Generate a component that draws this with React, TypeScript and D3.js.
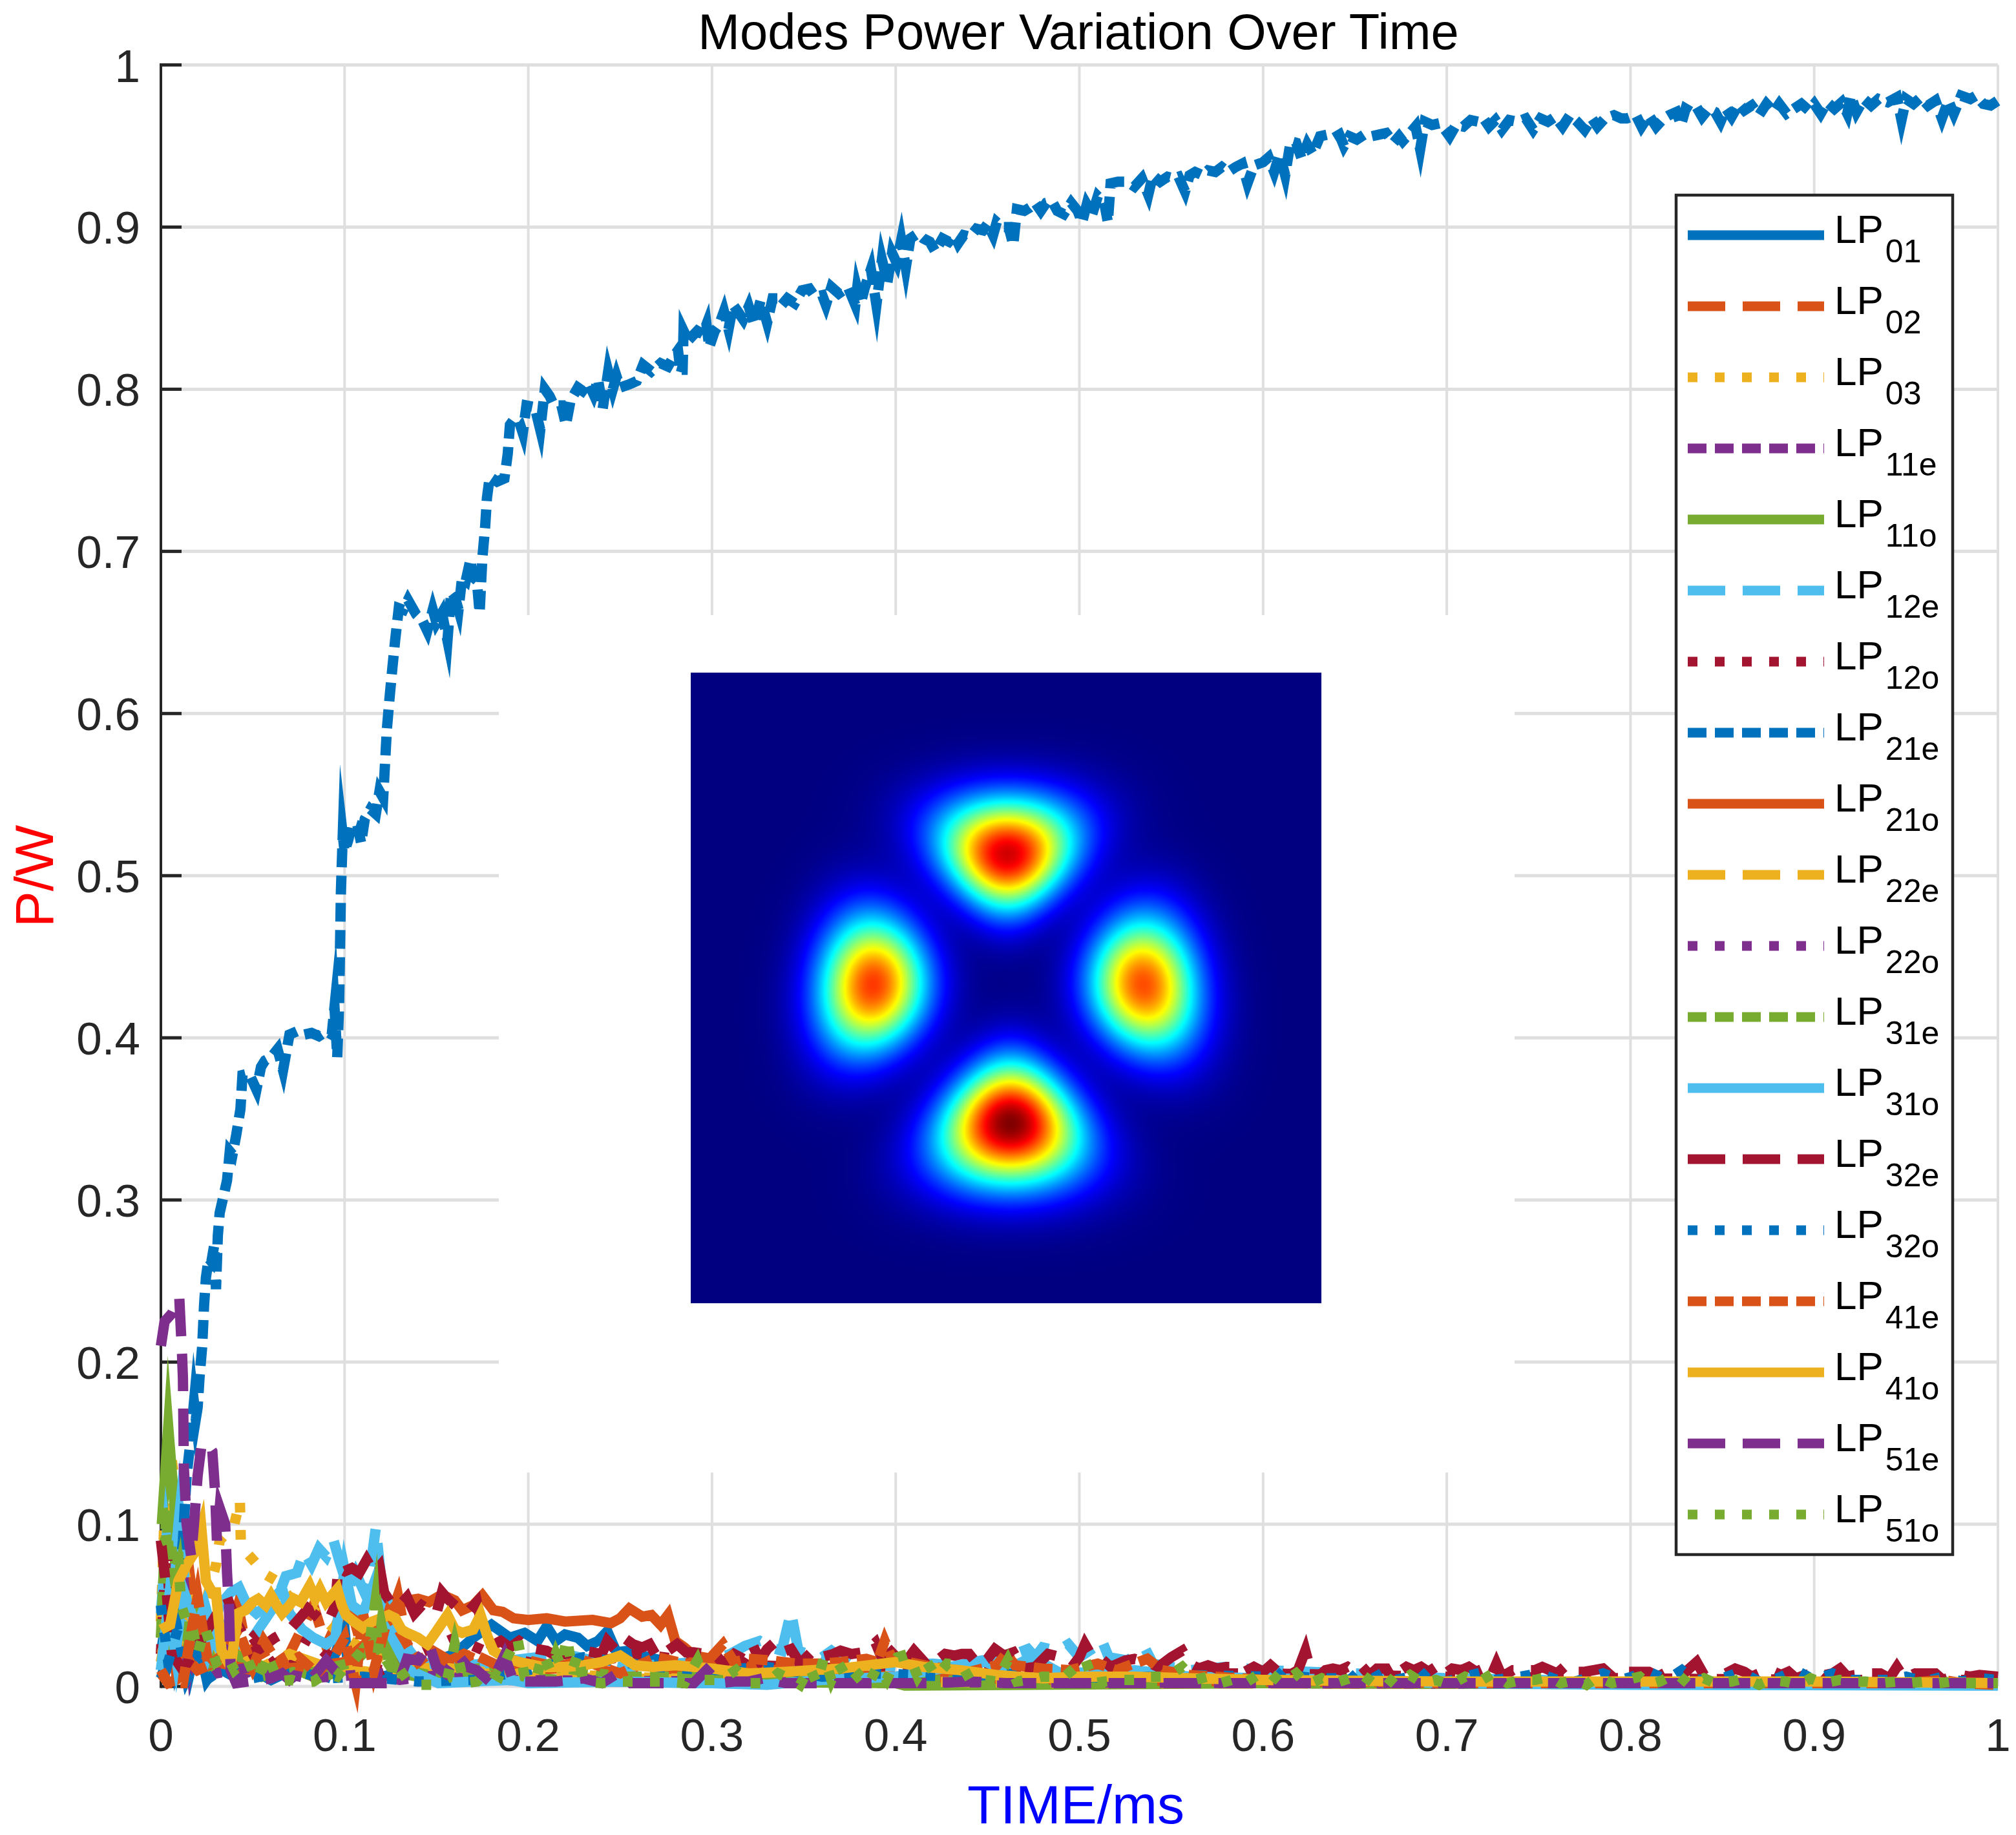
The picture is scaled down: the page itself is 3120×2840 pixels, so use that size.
import React, { useMemo } from "react";
import * as d3 from "d3";

const CHART_TITLE = "Modes Power Variation Over Time";
const X_LABEL = "TIME/ms";
const Y_LABEL = "P/W";
const tickValues = [0, 0.1, 0.2, 0.3, 0.4, 0.5, 0.6, 0.7, 0.8, 0.9, 1];
const tickLabels = ["0", "0.1", "0.2", "0.3", "0.4", "0.5", "0.6", "0.7", "0.8", "0.9", "1"];

const modeNames = ["01","02","03","11e","11o","12e","12o","21e","21o","22e","22o","31e","31o","32e","32o","41e","41o","51e","51o"];
const palette = ["#0072BD","#D95319","#EDB120","#7E2F8E","#77AC30","#4DBEEE","#A2142F"];
const dashStyles = ["none","58 27","15 27","29 13"];

type P = [number, number];

const lp01: P[] = [[0,.02],[.004,.05],[.008,.015],[.012,.035],[.016,.01],[.02,.03],[.025,.004],[.03,.012],[.04,.006],[.05,.01],[.06,.004],[.075,.012],[.09,.006],[.1,.035],[.102,.01],[.115,.004],[.13,.009],[.145,.014],[.16,.02],[.17,.03],[.18,.038],[.19,.03],[.198,.033],[.205,.028],[.21,.037],[.215,.028],[.22,.032],[.227,.03],[.232,.025],[.238,.028],[.243,.034],[.248,.021],[.255,.022],[.265,.018],[.28,.014],[.3,.008],[.33,.005],[.36,.008],[.4,.004],[.45,.005],[.5,.003],[.6,.002],[.8,.002],[1,.001]];
const lp02: P[] = [[0,.008],[.004,.002],[.008,.004],[.012,.03],[.016,.066],[.02,.03],[.026,.01],[.035,.022],[.042,.05],[.047,.02],[.053,.026],[.06,.012],[.07,.02],[.083,.05],[.09,.025],[.102,.054],[.108,.03],[.118,.02],[.129,.056],[.135,.02],[.15,.012],[.165,.02],[.18,.012],[.2,.01],[.23,.012],[.26,.006],[.3,.008],[.35,.004],[.4,.005],[.5,.002],[.7,.002],[1,.001]];
const lp03: P[] = [[0,.04],[.003,.14],[.005,.148],[.007,.13],[.01,.105],[.013,.07],[.018,.04],[.024,.05],[.03,.075],[.032,.09],[.036,.095],[.04,.1],[.043,.115],[.0435,.09],[.047,.082],[.051,.077],[.057,.069],[.063,.065],[.07,.055],[.08,.05],[.09,.04],[.1,.03],[.115,.02],[.13,.015],[.16,.01],[.2,.008],[.25,.006],[.3,.004],[.4,.003],[.6,.002],[1,.001]];
const lp11e: P[] = [[0,.03],[.004,.06],[.008,.03],[.012,.07],[.016,.02],[.02,.05],[.028,.015],[.035,.03],[.045,.008],[.06,.012],[.08,.006],[.1,.01],[.13,.004],[.16,.008],[.2,.004],[.25,.003],[.3,.004],[.4,.002],[.6,.002],[1,.001]];
const lp11o: P[] = [[.0005,.1],[.004,.16],[.0075,.11],[.008,.02],[.01,.06],[.014,.02],[.02,.045],[.028,.012],[.04,.018],[.055,.006],[.07,.012],[.085,.005],[.1,.01],[.12,.03],[.13,.008],[.15,.004],[.18,.006],[.22,.004],[.3,.003],[.4,.002],[.405,.0005],[.6,.002],[1,.001]];
const lp12e: P[] = [[0,.045],[.003,.09],[.006,.06],[.01,.105],[.014,.05],[.018,.03],[.024,.05],[.03,.025],[.036,.045],[.042,.02],[.05,.03],[.056,.04],[.062,.05],[.068,.068],[.074,.07],[.078,.083],[.082,.075],[.086,.085],[.09,.08],[.094,.09],[.097,.078],[.102,.06],[.106,.07],[.11,.06],[.114,.072],[.117,.098],[.12,.065],[.124,.05],[.13,.03],[.14,.015],[.16,.012],[.19,.016],[.22,.02],[.25,.012],[.28,.014],[.3,.016],[.31,.02],[.318,.025],[.326,.028],[.332,.024],[.338,.022],[.343,.046],[.347,.022],[.352,.02],[.36,.018],[.365,.022],[.372,.016],[.376,.023],[.382,.015],[.4,.012],[.42,.014],[.44,.012],[.455,.018],[.465,.02],[.472,.023],[.476,.018],[.48,.024],[.488,.022],[.494,.026],[.5,.018],[.508,.024],[.512,.029],[.516,.018],[.526,.016],[.536,.023],[.54,.014],[.56,.01],[.58,.012],[.6,.01],[.65,.008],[.7,.005],[.75,.004],[.8,.002],[.9,.002],[1,.001]];
const lp12o: P[] = [[0,.02],[.003,.085],[.006,.03],[.012,.01],[.018,.03],[.025,.012],[.035,.04],[.04,.018],[.05,.03],[.06,.015],[.07,.01],[.08,.03],[.09,.02],[.1,.015],[.12,.01],[.14,.02],[.16,.03],[.18,.02],[.2,.015],[.22,.012],[.26,.02],[.3,.014],[.35,.012],[.4,.01],[.45,.009],[.5,.01],[.55,.008],[.6,.008],[.65,.007],[.7,.006],[.8,.005],[.9,.004],[1,.004]];
const lp21e: P[] = [[0,.005],[.002,.012],[.004,.03],[.006,.02],[.008,.042],[.01,.065],[.012,.09],[.014,.13],[.016,.15],[.018,.175],[.019,.165],[.02,.172],[.021,.19],[.0225,.21],[.0235,.235],[.0245,.252],[.026,.264],[.0275,.262],[.029,.272],[.03,.245],[.031,.278],[.032,.292],[.034,.302],[.036,.312],[.0375,.33],[.039,.328],[.041,.34],[.0433,.356],[.0444,.377],[.048,.378],[.052,.368],[.0545,.382],[.0567,.386],[.06,.388],[.0635,.393],[.0665,.38],[.07,.402],[.074,.404],[.078,.402],[.082,.403],[.086,.401],[.09,.404],[.093,.402],[.0945,.419],[.096,.388],[.097,.42],[.0975,.455],[.098,.49],[.0985,.508],[.099,.525],[.1,.515],[.102,.522],[.104,.532],[.107,.531],[.109,.52],[.111,.535],[.114,.541],[.117,.538],[.119,.552],[.121,.548],[.123,.59],[.1245,.61],[.126,.628],[.1275,.645],[.1295,.665],[.132,.664],[.1345,.67],[.137,.665],[.139,.661],[.1425,.657],[.145,.651],[.148,.664],[.15,.656],[.153,.662],[.156,.645],[.158,.675],[.16,.672],[.162,.664],[.164,.684],[.166,.682],[.1685,.695],[.17,.684],[.172,.682],[.1735,.662],[.175,.696],[.1765,.715],[.1775,.733],[.179,.746],[.183,.743],[.187,.745],[.1888,.76],[.19,.778],[.1925,.782],[.195,.78],[.197,.773],[.199,.79],[.2035,.789],[.2065,.775],[.209,.8],[.2115,.796],[.214,.79],[.218,.79],[.2205,.778],[.223,.793],[.227,.801],[.2295,.799],[.2327,.804],[.2355,.797],[.238,.806],[.2405,.788],[.2435,.811],[.246,.8],[.248,.808],[.25,.801],[.255,.803],[.259,.805],[.2625,.815],[.267,.811],[.272,.816],[.276,.814],[.279,.82],[.2815,.824],[.283,.81],[.2835,.812],[.284,.812],[.2845,.836],[.287,.83],[.2895,.833],[.292,.836],[.295,.834],[.297,.84],[.2985,.826],[.3015,.836],[.304,.84],[.3065,.848],[.309,.837],[.3115,.852],[.314,.848],[.317,.843],[.32,.851],[.323,.84],[.3265,.855],[.33,.841],[.333,.856],[.336,.856],[.338,.852],[.341,.856],[.345,.853],[.349,.861],[.353,.862],[.356,.857],[.36,.858],[.362,.852],[.365,.863],[.369,.859],[.374,.863],[.378,.852],[.379,.862],[.381,.853],[.383,.862],[.3865,.874],[.3895,.852],[.3925,.88],[.3955,.866],[.398,.884],[.4005,.878],[.403,.892],[.4055,.875],[.408,.893],[.412,.896],[.415,.893],[.4185,.891],[.4215,.885],[.4255,.893],[.429,.891],[.432,.895],[.434,.89],[.437,.895],[.4405,.894],[.444,.899],[.4475,.898],[.45,.902],[.453,.895],[.455,.903],[.458,.9],[.4615,.9],[.464,.889],[.466,.911],[.47,.91],[.473,.912],[.476,.915],[.479,.91],[.482,.915],[.485,.916],[.488,.91],[.4915,.908],[.4955,.915],[.499,.91],[.5015,.903],[.504,.914],[.507,.908],[.51,.919],[.5135,.915],[.5155,.903],[.517,.927],[.521,.928],[.526,.928],[.53,.925],[.534,.93],[.5375,.92],[.54,.932],[.544,.928],[.548,.931],[.5515,.93],[.554,.931],[.5575,.922],[.56,.932],[.563,.934],[.567,.932],[.57,.935],[.574,.934],[.5775,.937],[.581,.934],[.585,.937],[.5885,.939],[.5915,.927],[.595,.938],[.6,.94],[.603,.943],[.606,.934],[.609,.945],[.612,.932],[.615,.953],[.618,.952],[.621,.942],[.624,.951],[.627,.945],[.631,.956],[.635,.957],[.6385,.955],[.6415,.957],[.644,.95],[.647,.956],[.651,.954],[.655,.957],[.659,.956],[.663,.957],[.667,.958],[.671,.952],[.674,.956],[.676,.953],[.68,.958],[.683,.962],[.6855,.948],[.688,.965],[.692,.963],[.696,.964],[.699,.96],[.7015,.956],[.705,.963],[.709,.962],[.713,.966],[.717,.965],[.72,.967],[.723,.962],[.7265,.966],[.73,.96],[.734,.966],[.7385,.965],[.743,.967],[.747,.96],[.751,.967],[.755,.965],[.759,.968],[.763,.962],[.767,.969],[.771,.965],[.775,.96],[.779,.967],[.782,.962],[.786,.967],[.791,.969],[.795,.967],[.798,.967],[.803,.969],[.806,.962],[.81,.969],[.814,.962],[.818,.967],[.821,.969],[.825,.971],[.8275,.963],[.83,.973],[.833,.971],[.836,.974],[.839,.968],[.8425,.973],[.846,.971],[.849,.965],[.852,.973],[.855,.968],[.859,.976],[.862,.972],[.866,.975],[.87,.969],[.874,.976],[.878,.971],[.881,.976],[.885,.97],[.889,.973],[.893,.976],[.897,.972],[.9,.976],[.9035,.97],[.907,.977],[.911,.973],[.915,.977],[.918,.97],[.92,.981],[.923,.971],[.927,.979],[.931,.975],[.935,.979],[.94,.977],[.945,.98],[.9475,.966],[.95,.979],[.954,.976],[.958,.98],[.962,.975],[.966,.978],[.9695,.967],[.973,.978],[.976,.97],[.98,.981],[.985,.979],[.988,.981],[.992,.976],[.996,.975],[1,.978]];
const lp21o: P[] = [[0,.02],[.004,.03],[.008,.01],[.012,.02],[.02,.01],[.03,.015],[.05,.01],[.08,.012],[.1,.015],[.115,.03],[.122,.042],[.128,.05],[.134,.053],[.14,.054],[.146,.052],[.152,.056],[.156,.055],[.16,.053],[.164,.047],[.17,.05],[.175,.056],[.181,.047],[.186,.046],[.192,.042],[.2,.041],[.21,.042],[.22,.04],[.235,.041],[.245,.039],[.25,.042],[.255,.048],[.262,.043],[.267,.044],[.272,.038],[.276,.044],[.28,.028],[.285,.024],[.29,.019],[.3,.017],[.32,.012],[.35,.008],[.4,.006],[.45,.005],[.5,.004],[.6,.003],[.8,.002],[1,.001]];
const lp22e: P[] = [[0,.015],[.004,.04],[.008,.02],[.014,.05],[.02,.03],[.03,.015],[.04,.025],[.055,.012],[.07,.02],[.09,.012],[.12,.008],[.15,.012],[.2,.006],[.3,.004],[.5,.002],[1,.001]];
const lp22o: P[] = [[0,.01],[.006,.035],[.012,.012],[.02,.025],[.03,.008],[.05,.012],[.08,.005],[.12,.008],[.18,.004],[.3,.003],[.6,.002],[1,.001]];
const lp31e: P[] = [[0,.03],[.003,.11],[.006,.045],[.01,.07],[.014,.025],[.02,.04],[.028,.015],[.04,.02],[.06,.01],[.08,.008],[.105,.015],[.115,.03],[.125,.012],[.15,.006],[.19,.015],[.215,.012],[.25,.006],[.3,.006],[.4,.004],[.6,.002],[1,.001]];
const lp31o: P[] = [[0,.01],[.004,.05],[.008,.02],[.012,.06],[.018,.04],[.025,.02],[.032,.05],[.038,.058],[.0425,.061],[.047,.05],[.052,.045],[.058,.05],[.066,.06],[.07,.045],[.077,.035],[.083,.03],[.09,.026],[.095,.03],[.1,.072],[.104,.05],[.11,.045],[.1165,.065],[.121,.05],[.126,.03],[.135,.01],[.151,.002],[.17,.003],[.19,.004],[.2,.002],[.25,.003],[.29,.002],[.3,.002],[.33,.001],[.36,.004],[.4,.006],[.43,.012],[.447,.016],[.46,.01],[.474,.018],[.49,.008],[.53,.01],[.56,.006],[.6,.005],[.65,.004],[.7,.002],[.8,.001],[1,.0005]];
const lp32e: P[] = [[0,.09],[.003,.06],[.006,.02],[.012,.01],[.02,.025],[.028,.04],[.036,.055],[.041,.04],[.05,.02],[.056,.025],[.062,.03],[.07,.035],[.074,.04],[.08,.048],[.086,.042],[.091,.04],[.095,.05],[.0965,.073],[.1,.071],[.104,.073],[.108,.07],[.112,.078],[.116,.07],[.119,.074],[.1215,.058],[.126,.05],[.13,.05],[.134,.055],[.138,.045],[.142,.05],[.146,.047],[.15,.045],[.153,.058],[.156,.054],[.16,.05],[.164,.046],[.168,.047],[.172,.052],[.176,.03],[.18,.025],[.185,.028],[.19,.024],[.195,.028],[.2,.024],[.21,.022],[.215,.019],[.22,.02],[.23,.022],[.24,.02],[.243,.028],[.247,.023],[.252,.03],[.257,.026],[.262,.024],[.266,.026],[.27,.018],[.276,.022],[.281,.026],[.286,.021],[.29,.021],[.296,.02],[.301,.021],[.306,.014],[.312,.02],[.317,.017],[.322,.026],[.326,.016],[.33,.023],[.334,.027],[.338,.021],[.343,.023],[.348,.014],[.355,.022],[.36,.018],[.366,.02],[.37,.022],[.376,.02],[.382,.021],[.386,.024],[.389,.027],[.393,.016],[.402,.026],[.406,.016],[.41,.022],[.418,.012],[.427,.02],[.432,.019],[.436,.02],[.44,.02],[.445,.013],[.45,.017],[.454,.023],[.459,.019],[.464,.021],[.469,.011],[.476,.012],[.483,.02],[.49,.018],[.496,.012],[.5,.018],[.503,.026],[.507,.018],[.512,.017],[.517,.012],[.525,.016],[.53,.017],[.537,.015],[.543,.012],[.55,.018],[.556,.022],[.56,.014],[.565,.011],[.57,.013],[.575,.011],[.58,.012],[.585,.012],[.59,.009],[.595,.012],[.6,.009],[.604,.013],[.608,.009],[.612,.011],[.616,.008],[.619,.01],[.623,.022],[.626,.009],[.63,.006],[.634,.01],[.638,.011],[.642,.01],[.646,.012],[.65,.009],[.654,.012],[.658,.007],[.662,.011],[.667,.011],[.67,.005],[.674,.009],[.678,.012],[.682,.01],[.686,.012],[.69,.009],[.694,.012],[.698,.007],[.703,.011],[.708,.01],[.712,.012],[.716,.009],[.72,.011],[.724,.006],[.727,.014],[.73,.006],[.736,.01],[.742,.01],[.748,.01],[.752,.012],[.756,.01],[.76,.008],[.765,.013],[.77,.009],[.775,.009],[.78,.01],[.785,.011],[.79,.006],[.795,.009],[.803,.009],[.81,.009],[.815,.006],[.82,.009],[.825,.01],[.83,.009],[.836,.015],[.84,.007],[.846,.008],[.852,.008],[.857,.011],[.862,.009],[.866,.006],[.87,.008],[.874,.007],[.878,.009],[.882,.007],[.886,.009],[.89,.005],[.895,.007],[.9,.008],[.903,.01],[.906,.007],[.91,.008],[.914,.011],[.918,.006],[.922,.007],[.93,.008],[.936,.008],[.941,.005],[.945,.012],[.949,.005],[.955,.008],[.96,.008],[.966,.008],[.97,.004],[.975,.006],[.98,.007],[.985,.006],[.99,.007],[1,.006]];
const lp32o: P[] = [[0,.05],[.004,.015],[.009,.035],[.014,.005],[.02,.02],[.026,.005],[.035,.012],[.05,.005],[.07,.01],[.09,.005],[.11,.006],[.14,.003],[.17,.004],[.2,.01],[.23,.018],[.27,.012],[.3,.01],[.33,.012],[.36,.006],[.39,.008],[.43,.006],[.47,.008],[.52,.005],[.56,.007],[.6,.006],[.606,.01],[.612,.004],[.62,.006],[.63,.005],[.64,.005],[.645,.01],[.65,.004],[.66,.005],[.666,.009],[.672,.004],[.68,.006],[.685,.01],[.69,.004],[.7,.003],[.71,.006],[.72,.009],[.726,.004],[.74,.006],[.75,.008],[.76,.004],[.77,.003],[.785,.008],[.795,.004],[.81,.009],[.82,.004],[.828,.01],[.835,.004],[.85,.005],[.86,.009],[.87,.003],[.88,.005],[.89,.01],[.9,.004],[.91,.008],[.92,.004],[.94,.004],[.95,.006],[.96,.003],[.97,.006],[.98,.003],[.99,.005],[1,.004]];
const lp41e: P[] = [[0,.01],[.004,.002],[.008,.002],[.012,.002],[.016,.03],[.02,.055],[.026,.012],[.034,.02],[.042,.035],[.05,.012],[.056,.028],[.065,.012],[.075,.018],[.085,.008],[.095,.02],[.1,.03],[.106,.002],[.11,.045],[.116,.01],[.124,.045],[.132,.03],[.14,.015],[.148,.022],[.16,.014],[.17,.02],[.185,.012],[.2,.016],[.215,.012],[.23,.016],[.25,.008],[.27,.018],[.285,.014],[.297,.015],[.306,.026],[.312,.015],[.32,.017],[.332,.016],[.346,.014],[.36,.014],[.37,.015],[.384,.017],[.39,.015],[.394,.028],[.398,.017],[.42,.012],[.44,.009],[.455,.013],[.46,.02],[.465,.013],[.48,.011],[.495,.01],[.51,.014],[.52,.01],[.537,.017],[.545,.01],[.56,.007],[.6,.004],[.7,.002],[.8,.002],[.95,.002],[.97,.004],[.98,.002],[1,.001]];
const lp41o: P[] = [[0,.035],[.005,.038],[.0095,.065],[.014,.075],[.018,.082],[.022,.098],[.0245,.065],[.028,.058],[.03,.058],[.033,.022],[.038,.012],[.042,.045],[.046,.047],[.05,.052],[.053,.054],[.057,.05],[.06,.056],[.063,.05],[.066,.045],[.07,.05],[.0725,.054],[.076,.052],[.081,.062],[.084,.054],[.0866,.06],[.09,.052],[.096,.06],[.0985,.05],[.1008,.044],[.105,.04],[.11,.036],[.115,.04],[.12,.042],[.124,.044],[.1276,.042],[.131,.035],[.134,.033],[.14,.03],[.145,.026],[.15,.034],[.156,.044],[.16,.035],[.164,.033],[.17,.035],[.174,.044],[.178,.03],[.181,.022],[.187,.018],[.195,.015],[.208,.012],[.22,.012],[.23,.013],[.24,.015],[.25,.019],[.258,.013],[.268,.012],[.28,.013],[.29,.012],[.3,.011],[.32,.008],[.34,.009],[.37,.011],[.385,.013],[.4,.015],[.415,.012],[.435,.01],[.455,.007],[.48,.005],[.5,.006],[.53,.006],[.56,.005],[.6,.004],[.7,.003],[.8,.003],[.9,.003],[1,.002]];
const lp51e: P[] = [[0,.21],[.002,.225],[.006,.23],[.01,.24],[.0115,.205],[.012,.19],[.0125,.135],[.014,.1],[.0165,.08],[.018,.1],[.02,.13],[.022,.148],[.025,.15],[.028,.145],[.0295,.12],[.0305,.09],[.032,.11],[.035,.1],[.036,.07],[.037,.05],[.038,.01],[.041,.002],[.047,.003],[.054,.004],[.06,.005],[.066,.008],[.07,.004],[.077,.01],[.083,.006],[.09,.016],[.096,.008],[.102,.002],[.109,.002],[.12,.002],[.125,.002],[.13,.004],[.134,.017],[.14,.016],[.146,.026],[.15,.012],[.155,.008],[.162,.019],[.167,.012],[.172,.01],[.18,.002],[.187,.019],[.192,.003],[.203,.003],[.215,.003],[.223,.004],[.23,.005],[.24,.002],[.25,.009],[.256,.002],[.27,.002],[.28,.002],[.29,.002],[.297,.01],[.304,.002],[.312,.003],[.32,.003],[.328,.005],[.34,.002],[.36,.002],[.4,.002],[.42,.002],[.44,.003],[.46,.002],[.5,.002],[.55,.002],[.6,.002],[.64,.002],[.7,.002],[.76,.002],[.8,.002],[.85,.002],[.9,.002],[1,.002]];
const lp51o: P[] = [[.001,.11],[.003,.09],[.006,.08],[.0095,.08],[.011,.05],[.014,.04],[.0165,.04],[.02,.02],[.024,.036],[.03,.015],[.036,.019],[.04,.01],[.047,.017],[.052,.004],[.058,.019],[.064,.003],[.071,.004],[.077,.002],[.083,.003],[.09,.008],[.096,.006],[.1,.012],[.104,.015],[.108,.02],[.112,.026],[.114,.03],[.1165,.05],[.118,.02],[.12,.038],[.124,.015],[.129,.012],[.134,.004],[.139,.001],[.148,.001],[.156,.005],[.16,.026],[.165,.002],[.172,.003],[.178,.01],[.184,.006],[.189,.019],[.194,.03],[.198,.006],[.204,.004],[.208,.02],[.212,.01],[.215,.02],[.218,.012],[.221,.03],[.224,.01],[.227,.02],[.23,.003],[.24,.002],[.25,.003],[.262,.003],[.276,.003],[.285,.002],[.292,.016],[.296,.004],[.305,.004],[.313,.01],[.32,.002],[.33,.002],[.336,.008],[.344,.004],[.348,.001],[.353,.012],[.357,.002],[.361,.018],[.365,.004],[.369,.014],[.375,.002],[.38,.007],[.385,.001],[.39,.012],[.395,.004],[.401,.018],[.407,.02],[.412,.006],[.417,.015],[.422,.006],[.428,.014],[.436,.013],[.441,.003],[.448,.004],[.455,.003],[.461,.016],[.466,.003],[.472,.004],[.48,.006],[.486,.006],[.492,.006],[.503,.017],[.508,.002],[.514,.003],[.523,.004],[.532,.004],[.537,.006],[.548,.006],[.556,.012],[.563,.004],[.57,.006],[.577,.002],[.583,.004],[.59,.002],[.597,.007],[.603,.009],[.61,.002],[.618,.008],[.624,.001],[.632,.005],[.639,.002],[.647,.005],[.653,.008],[.66,.002],[.667,.006],[.672,.001],[.68,.007],[.687,.002],[.694,.004],[.702,.001],[.71,.006],[.718,.003],[.725,.008],[.733,.002],[.741,.004],[.748,.004],[.756,.006],[.762,.002],[.77,.004],[.776,.001],[.782,.006],[.79,.002],[.798,.004],[.805,.006],[.81,.001],[.816,.003],[.825,.008],[.832,.001],[.84,.005],[.846,.002],[.855,.003],[.862,.005],[.87,.001],[.876,.004],[.884,.003],[.892,.001],[.898,.005],[.905,.002],[.914,.004],[.92,.003],[.928,.003],[.936,.002],[.945,.003],[.952,.002],[.96,.003],[.968,.002],[.975,.003],[.982,.002],[.99,.002],[1,.002]];
const allSeries: P[][] = [lp01,lp02,lp03,lp11e,lp11o,lp12e,lp12o,lp21e,lp21o,lp22e,lp22o,lp31e,lp31o,lp32e,lp32o,lp41e,lp41o,lp51e,lp51o];

// Field of the inset image, one lobe per row; fractions of the inset's side.
const heatLobes = [
  { cx: .502, cy: .288, amp: .92, su: .062, sv: .072, rot: -90, taper: .18 },
  { cx: .507, cy: .715, amp: 1.0, su: .068, sv: .075, rot: 90, taper: .18 },
  { cx: .289, cy: .495, amp: .82, su: .06, sv: .076, rot: 188, taper: .08 },
  { cx: .718, cy: .495, amp: .8, su: .06, sv: .076, rot: -10, taper: .08 },
];
const jetStops = [0, .125, .375, .625, .875, 1];
const jetColors = ["#000080", "#0000ff", "#00ffff", "#ffff00", "#ff0000", "#800000"];

const FONT = '"Liberation Sans", Arial, sans-serif';
const INK = "#262626";
const GRID = "#dfdfdf";

function useHeatImage(size: number) {
  return useMemo(() => {
    const canvas = document.createElement("canvas");
    canvas.width = size; canvas.height = size;
    const ctx = canvas.getContext("2d")!;
    const img = ctx.createImageData(size, size);
    const jet = d3.scaleLinear<string>().domain(jetStops).range(jetColors).interpolate(d3.interpolateRgb).clamp(true);
    for (let j = 0; j < size; j++) {
      for (let i = 0; i < size; i++) {
        const fx = (i + .5) / size, fy = (j + .5) / size;
        let v = 0;
        for (const l of heatLobes) {
          const a = l.rot * Math.PI / 180;
          const dx = fx - l.cx, dy = fy - l.cy;
          const u = dx * Math.cos(a) + dy * Math.sin(a);
          const w = -dx * Math.sin(a) + dy * Math.cos(a);
          const sw = l.sv * Math.max(.35, 1 + l.taper * u / l.su);
          v += l.amp * Math.exp(-(u * u) / (2 * l.su * l.su) - (w * w) / (2 * sw * sw));
        }
        const c = d3.rgb(jet(v));
        const k = (j * size + i) * 4;
        img.data[k] = c.r; img.data[k + 1] = c.g; img.data[k + 2] = c.b; img.data[k + 3] = 255;
      }
    }
    ctx.putImageData(img, 0, 0);
    return canvas.toDataURL("image/png");
  }, [size]);
}

export default function App() {
  const W = 3120, H = 2840;
  const x = d3.scaleLinear().domain([0, 1]).range([249, 3092]);
  const y = d3.scaleLinear().domain([0, 1]).range([2610, 100.5]);
  const line = d3.line<P>().x(d => x(d[0])).y(d => y(d[1]));
  const heat = useHeatImage(488);

  return (
    <svg width={W} height={H} viewBox={`0 0 ${W} ${H}`}
      style={{ position: "absolute", left: 0, top: 0, display: "block", background: "#fff" }}
      fontFamily={FONT}>
      <rect width={W} height={H} fill="#fff" />
      {tickValues.map(v => (
        <line key={"gv" + v} x1={x(v)} x2={x(v)} y1={y(1)} y2={y(0)} stroke={GRID} strokeWidth={4} />
      ))}
      {tickValues.map(v => (
        <line key={"gh" + v} x1={x(0)} x2={x(1)} y1={y(v)} y2={y(v)} stroke={GRID} strokeWidth={5} />
      ))}
      <rect x={772} y={952} width={1572} height={1327} fill="#fff" />
      <image href={heat} x={1069} y={1041} width={976} height={976} preserveAspectRatio="none" />

      <line x1={x(0)} x2={x(0)} y1={y(1) - 2.5} y2={y(0) + 2.5} stroke={INK} strokeWidth={4} />
      {tickValues.map(v => (
        <line key={"ty" + v} x1={x(0)} x2={x(0) + 32} y1={y(v)} y2={y(v)} stroke={INK} strokeWidth={5} />
      ))}
      {tickValues.map((v, i) => (
        <text key={"ly" + v} x={217} y={y(v) + 26} textAnchor="end" fontSize={71} fill={INK}>{tickLabels[i]}</text>
      ))}
      {tickValues.map((v, i) => (
        <text key={"lx" + v} x={x(v)} y={2710} textAnchor="middle" fontSize={71} fill={INK}>{tickLabels[i]}</text>
      ))}

      {allSeries.map((data, i) => (
        <path key={modeNames[i]} d={line(data) ?? ""} fill="none"
          stroke={palette[i % 7]} strokeWidth={16}
          strokeDasharray={dashStyles[i % 4]} strokeLinejoin="miter" strokeMiterlimit={16} strokeLinecap="butt" />
      ))}

      <text x={1669} y={76} textAnchor="middle" fontSize={77.7} fill="#000">{CHART_TITLE}</text>
      <text x={1665} y={2822} textAnchor="middle" fontSize={84} fill="#0000ff">{X_LABEL}</text>
      <text transform="translate(82,1356) rotate(-90)" textAnchor="middle" fontSize={84} fill="#ff0000">{Y_LABEL}</text>

      <rect x={2594} y={302} width={428} height={2104} fill="#fff" stroke={INK} strokeWidth={4.5} />
      {modeNames.map((name, i) => {
        const rowY = 364 + i * 110;
        return (
          <g key={"lg" + name}>
            <line x1={2612} x2={2823} y1={rowY} y2={rowY} stroke={palette[i % 7]} strokeWidth={15} strokeDasharray={dashStyles[i % 4]} />
            <text x={2839} y={rowY + 12} fontSize={62} fill="#000">LP<tspan dx={3} dy={30} fontSize={50}>{name}</tspan></text>
          </g>
        );
      })}
    </svg>
  );
}
